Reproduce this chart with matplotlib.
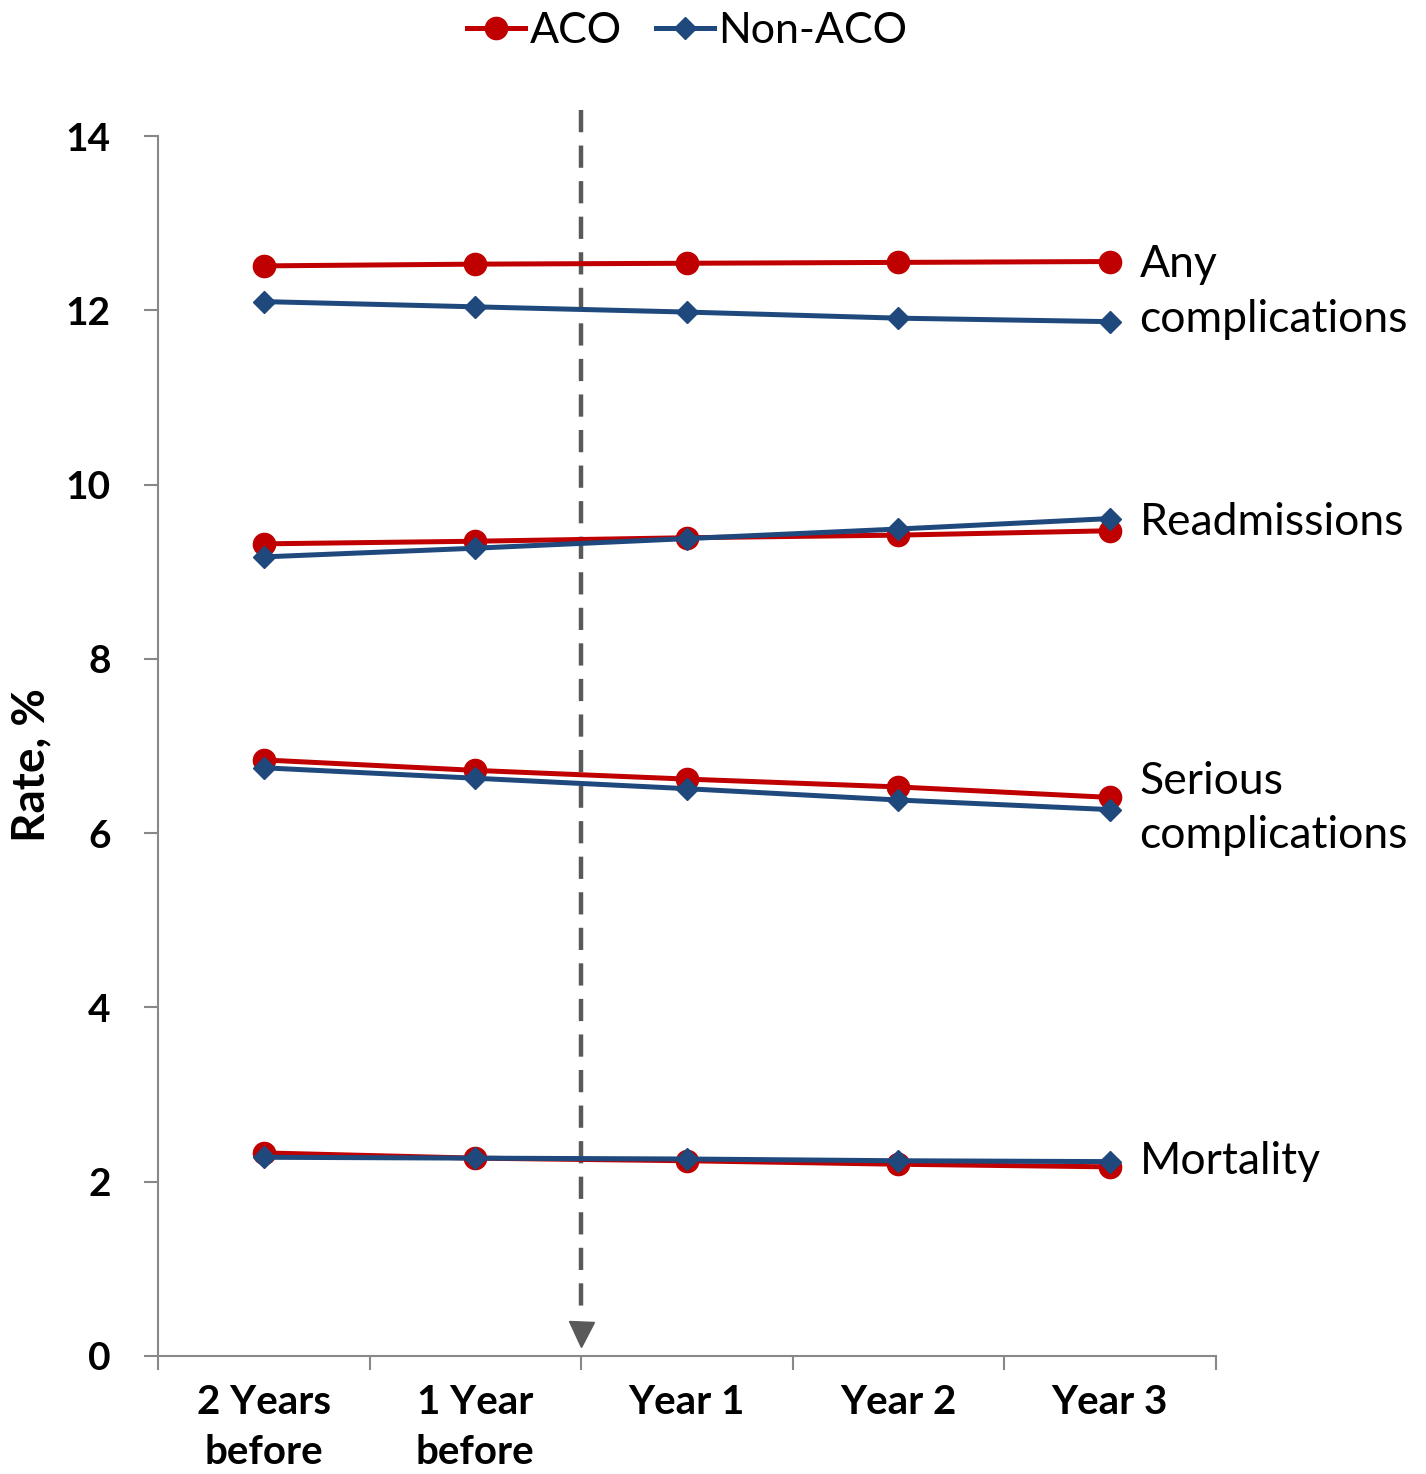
import matplotlib
matplotlib.use("Agg")
import matplotlib.pyplot as plt
from matplotlib.ticker import FixedLocator

plt.rcParams["font.family"] = ["Lato", "DejaVu Sans"]

periods = ["2 Years\nbefore", "1 Year\nbefore", "Year 1", "Year 2", "Year 3"]
outcomes = ["Any\ncomplications", "Readmissions", "Serious\ncomplications", "Mortality"]

aco_any = [12.51, 12.53, 12.54, 12.55, 12.56]
non_any = [12.10, 12.04, 11.98, 11.91, 11.87]
aco_readm = [9.32, 9.35, 9.39, 9.42, 9.47]
non_readm = [9.17, 9.27, 9.38, 9.49, 9.61]
aco_serious = [6.84, 6.72, 6.62, 6.53, 6.41]
non_serious = [6.75, 6.63, 6.51, 6.38, 6.27]
aco_mort = [2.33, 2.27, 2.24, 2.20, 2.17]
non_mort = [2.28, 2.27, 2.26, 2.24, 2.23]

aco_series = [aco_any, aco_readm, aco_serious, aco_mort]
non_series = [non_any, non_readm, non_serious, non_mort]
label_y = [12.21, 9.56, 6.28, 2.23]

RED = "#C00000"
BLUE = "#1F497D"
GRAY = "#888888"

fig = plt.figure(figsize=(14.26, 14.74), dpi=100)
ax = fig.add_axes([0.1108, 0.0801, 0.7416, 0.8276])

x = list(range(len(periods)))
for i, (a, n) in enumerate(zip(aco_series, non_series)):
    ax.plot(x, a, color=RED, lw=3.6, marker="o", ms=16, mec=RED,
            label="ACO" if i == 0 else None, clip_on=False, zorder=3)
    ax.plot(x, n, color=BLUE, lw=3.6, marker="D", ms=11, mec=BLUE,
            label="Non-ACO" if i == 0 else None, clip_on=False, zorder=4)

for name, yv in zip(outcomes, label_y):
    ax.text(4.14, yv, name, fontsize=32, va="center", ha="left",
            linespacing=1.4)

# dashed arrow marking start of ACO
ax.plot([1.5, 1.5], [14.3, 0.45], color="#595959", lw=3.2,
        linestyle=(0, (5, 3)), clip_on=False, zorder=2)
ax.plot([1.5], [0.25], marker="v", ms=18, color="#595959",
        clip_on=False, zorder=2)

ax.set_xlim(-0.5, 4.5)
ax.set_ylim(0, 14)
ax.set_yticks([0, 2, 4, 6, 8, 10, 12, 14])
ax.set_xticks(x)
ax.set_xticklabels(periods, fontsize=29, fontweight="bold", linespacing=1.45)
ax.xaxis.set_minor_locator(FixedLocator([-0.5, 0.5, 1.5, 2.5, 3.5, 4.5]))
ax.tick_params(axis="x", which="major", length=0, pad=20)
ax.tick_params(axis="x", which="minor", length=10, width=1.5, color=GRAY)
ax.tick_params(axis="y", length=10, width=1.5, color=GRAY, pad=24,
               labelsize=28)
for lab in ax.get_yticklabels():
    lab.set_fontweight("bold")
    lab.set_horizontalalignment("right")

for s in ["top", "right"]:
    ax.spines[s].set_visible(False)
for s in ["left", "bottom"]:
    ax.spines[s].set_color(GRAY)
    ax.spines[s].set_linewidth(1.5)

fig.text(0.022, 0.481, "Rate, %", fontsize=33, fontweight="bold",
         rotation=90, ha="center", va="center")

fig.legend(loc="upper center", bbox_to_anchor=(0.482, 1.018), ncol=2,
           frameon=False, fontsize=31, handlelength=1.35, handletextpad=0.1,
           columnspacing=0.8)

fig.savefig("out.png", dpi=100)
